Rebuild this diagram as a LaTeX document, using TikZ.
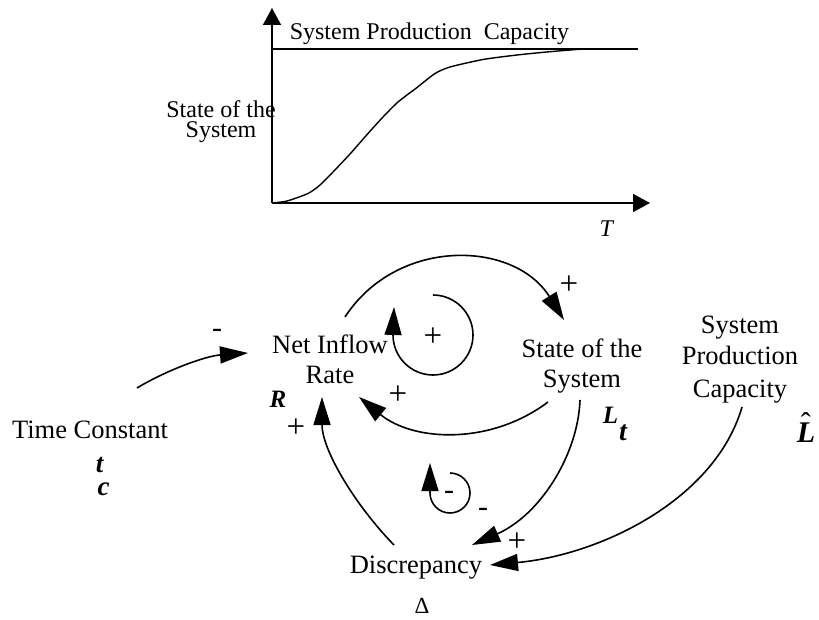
\documentclass[tikz,border=0pt]{standalone}
\usepackage{fontspec}
\setmainfont{Liberation Serif}
\usetikzlibrary{arrows.meta}
\newcommand\mlines[2]{\vtop{\baselineskip=#1\lineskiplimit=-100pt\lineskip=0pt\halign{\hfil##\hfil\cr#2\crcr}}}
\newcommand\bi[1]{\textbf{\textit{#1}}}
\begin{document}
\begin{tikzpicture}[x=1pt,y=-1pt,line width=1.6pt,
  lbl/.style={inner sep=0pt,anchor=base,font=\fontsize{26.5}{30}\selectfont},
  toplbl/.style={inner sep=0pt,anchor=base,font=\fontsize{24}{20}\selectfont},
  plus/.style={inner sep=0pt,font=\fontsize{33}{33}\selectfont},
  minus/.style={inner sep=0pt,font=\fontsize{30}{30}\selectfont},
  sym/.style={inner sep=0pt,anchor=base},
  arr/.style={-{Triangle[length=28pt,width=17pt]}},
  ax/.style={-{Triangle[length=17pt,width=18pt]}}]
\useasboundingbox (0,0) rectangle (819,620);

% ---------- top graph ----------
\coordinate (O) at (272,203);
\coordinate (ytop) at (272,8);
\coordinate (xend) at (650,203);
\coordinate (capL) at (272,49);
\coordinate (capR) at (638,49);
\draw[ax] (O) -- (ytop);
\draw[ax] (O) -- (xend);
\draw (capL) -- (capR);
\draw[line width=1.4pt] plot[smooth,tension=0.4] coordinates {(272,203) (287,201) (308,193.5) (320,185) (333,172) (350,154) (368,133.5) (383,117) (398,102) (417,87.5) (435,73.5) (450,67) (483,59.5) (517,55) (550,51.7) (580,49.3) (600,49)};
\node[toplbl,anchor=base west] (captxt) at (289,40) {System Production\ \ Capacity};
\node[toplbl] (statetxt) at (221,118) {\mlines{20pt}{State of the\cr System}};
\node[toplbl] (Ttxt) at (607,237) {\textit{T}};

% ---------- causal loop diagram ----------
\node[lbl] (tc) at (90,438) {Time Constant};
\node[lbl] (nir) at (330,353) {\mlines{30pt}{Net Inflow\cr Rate}};
\node[lbl] (state) at (582,357) {\mlines{30pt}{State of the\cr System}};
\node[lbl] (cap) at (740,333) {\mlines{32pt}{System\cr Production\cr Capacity}};
\node[lbl] (disc) at (416,573) {Discrepancy};

\node[sym,font=\fontsize{25}{25}\selectfont] (Rsym) at (278,407) {\bi{R}};
\node[sym,font=\fontsize{27}{22}\selectfont] (tcsym) at (100,472) {\mlines{23pt}{\bi{t}\cr\hspace{7pt}\bi{c}}};
\node[sym,anchor=base west] (Lt) at (602,423) {\fontsize{25}{25}\selectfont\bi{L}\kern1pt\raisebox{-17pt}{\fontsize{28}{28}\selectfont\bi{t}}};
\node[sym,anchor=base west,font=\fontsize{30}{30}\selectfont] (Lhat) at (796,442) {\makebox[0pt][l]{\hspace{4pt}\raisebox{9pt}{\fontsize{30}{30}\selectfont ˆ}}\bi{L}};
\node[sym,font=\fontsize{23}{23}\selectfont] (delta) at (422,613) {Δ};

% connectors
\draw[arr] ([shift={(47,-50)}]tc.base) .. controls +(28,-17) and +(-43,3) .. ([shift={(-82,0)}]nir.base);
\draw[arr] ([shift={(15,-36)}]nir.base) .. controls +(52,-80) and +(-50,-80) .. ([shift={(-18,-37)}]state.base);
\draw[arr] ([shift={(-34,45)}]state.base) .. controls +(-57,43) and +(55,45) .. ([shift={(29,44)}]nir.base);
\draw[arr] ([shift={(-22,-28)}]disc.base) .. controls +(-39,-40) and +(0,53) .. ([shift={(-8,44)}]nir.base);
\draw[arr] ([shift={(-2,43)}]state.base) .. controls +(-2,55) and +(68,-30) .. ([shift={(56,-28)}]disc.base);
\draw[arr] ([shift={(2,74)}]cap.base) .. controls +(-27,93) and +(110,-10) .. ([shift={(74,-8)}]disc.base);

% loop markers
\coordinate (loopA) at (433,335);
\draw[arr] ([shift={(0,-40)}]loopA) .. controls +(22,0) and +(0,-22) .. ([shift={(40,0)}]loopA)
  .. controls +(0,22) and +(22,0) .. ([shift={(0,40)}]loopA)
  .. controls +(-22,0) and +(0,22) .. ([shift={(-40,0)}]loopA) -- ([shift={(-39,-28)}]loopA);
\coordinate (loopB) at (450,493);
\draw[arr] ([shift={(0,-20)}]loopB) .. controls +(11,0) and +(0,-11) .. ([shift={(20,0)}]loopB)
  .. controls +(0,11) and +(11,0) .. ([shift={(0,20)}]loopB)
  .. controls +(-11,0) and +(0,11) .. ([shift={(-20,0)}]loopB) -- ([shift={(-20,-30)}]loopB);

% polarity signs
\node[minus] (s1) at (217,333) {-};
\node[plus] (s2) at (569,285) {+};
\node[plus] (s3) at (433,337) {+};
\node[plus] (s4) at (398,395) {+};
\node[plus] (s5) at (296,428) {+};
\node[minus] (s6) at (483,512) {-};
\node[plus] (s7) at (517,542) {+};
\node[minus] (s8) at (449,495) {-};
\end{tikzpicture}
\end{document}
